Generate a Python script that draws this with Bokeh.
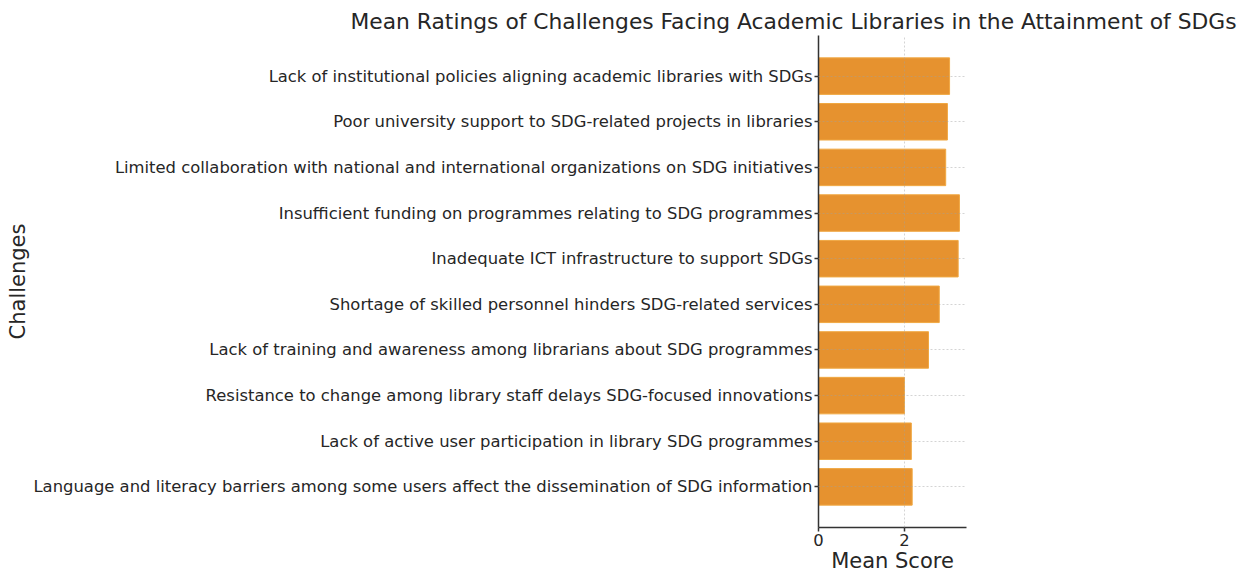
from bokeh.plotting import figure
from bokeh.models import FactorRange, Range1d, FixedTicker
from bokeh.embed import file_html
from bokeh.resources import INLINE

challenges = [
    "Lack of institutional policies aligning academic libraries with SDGs",
    "Poor university support to SDG-related projects in libraries",
    "Limited collaboration with national and international organizations on SDG initiatives",
    "Insufficient funding on programmes relating to SDG programmes",
    "Inadequate ICT infrastructure to support SDGs",
    "Shortage of skilled personnel hinders SDG-related services",
    "Lack of training and awareness among librarians about SDG programmes",
    "Resistance to change among library staff delays SDG-focused innovations",
    "Lack of active user participation in library SDG programmes",
    "Language and literacy barriers among some users affect the dissemination of SDG information",
]
mean_scores = [3.05, 3.00, 2.96, 3.28, 3.25, 2.81, 2.56, 2.00, 2.16, 2.18]
x_ticks = [0, 2]

FONT = "DejaVu Sans"
TEXT = "#262626"

p = figure(
    width=1242, height=575,
    y_range=FactorRange(factors=list(reversed(challenges)), range_padding=0.078, range_padding_units="percent"),
    x_range=Range1d(0, max(mean_scores) * 1.05),
    output_backend="svg", toolbar_location=None,
    min_border_left=818, min_border_right=276, min_border_top=35, min_border_bottom=10,
)

p.hbar(y=challenges, right=mean_scores, height=0.8, left=0,
       fill_color="#E6922F", line_color="#F0A843", line_width=1)

p.title.text = "Mean Ratings of Challenges Facing Academic Libraries in the Attainment of SDGs"
p.title.text_font = FONT
p.title.text_font_size = "21.8px"
p.title.text_font_style = "normal"
p.title.text_color = TEXT
p.title.align = "left"
p.title.offset = -468
p.title.standoff = 4

p.xaxis.ticker = FixedTicker(ticks=x_ticks)
p.xaxis.axis_label = "Mean Score"
p.yaxis.axis_label = "Challenges"
for ax in (p.xaxis, p.yaxis):
    ax.axis_label_text_font = FONT
    ax.axis_label_text_font_size = "21px"
    ax.axis_label_text_font_style = "normal"
    ax.axis_label_text_color = TEXT
    ax.major_label_text_font = FONT
    ax.major_label_text_font_size = "16.4px"
    ax.major_label_text_color = TEXT
    ax.axis_line_color = "#333333"
    ax.axis_line_width = 1.5
    ax.major_tick_line_color = "#333333"
    ax.major_tick_line_width = 1.5
    ax.major_tick_in = 0
    ax.major_tick_out = 4
    ax.minor_tick_line_color = None
    ax.axis_label_standoff = 0
    ax.major_label_standoff = 2

for g in (p.xgrid, p.ygrid):
    g.grid_line_color = "#a0a0a0"
    g.grid_line_alpha = 0.45
    g.grid_line_dash = "2 2"
    g.level = "annotation"

p.outline_line_color = None
p.background_fill_color = "white"
p.border_fill_color = "white"

open("out.html", "w").write(file_html(p, INLINE))
